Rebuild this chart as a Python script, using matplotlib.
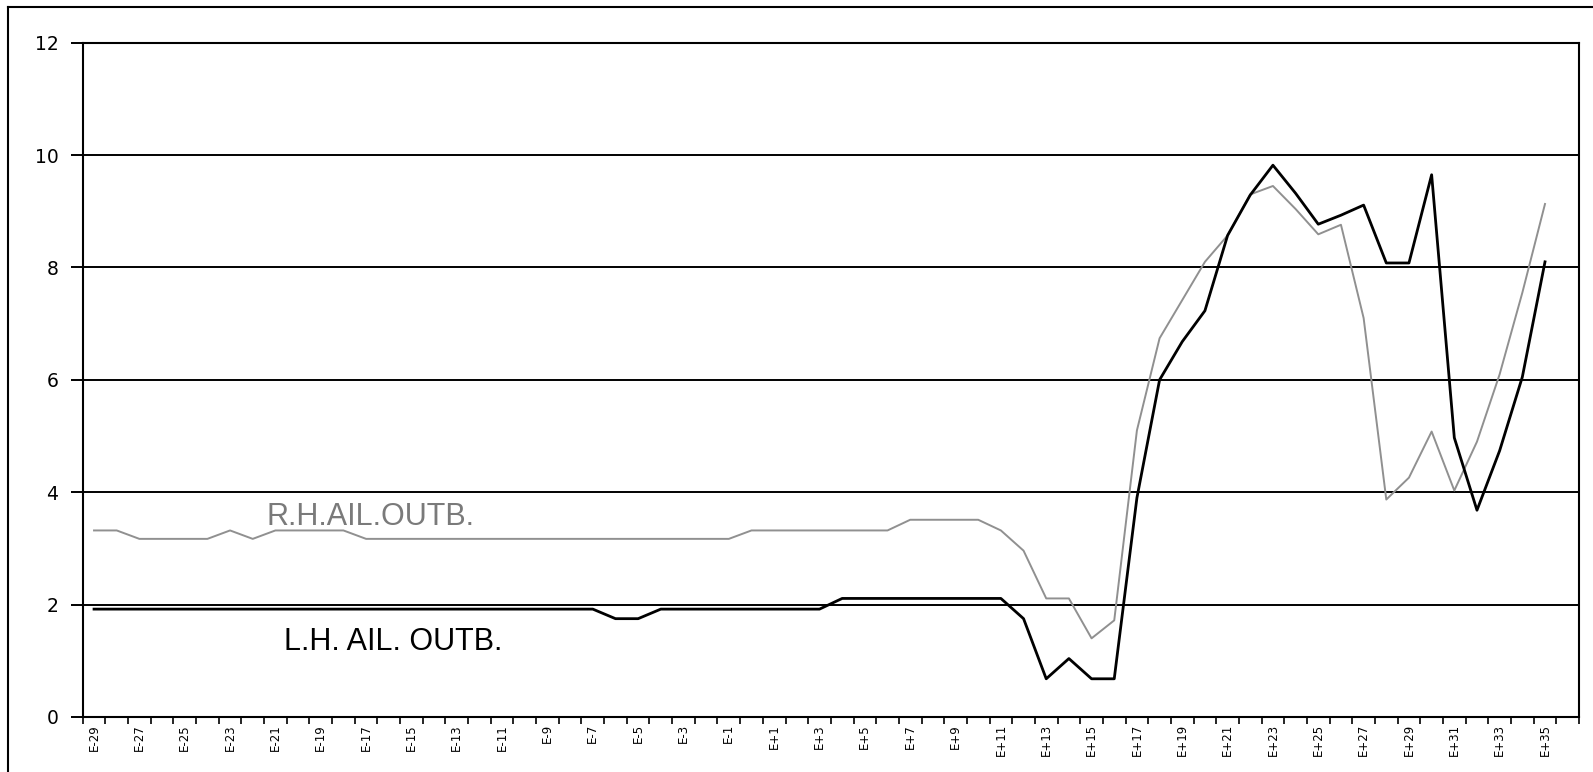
import numpy as np
import matplotlib
matplotlib.use("Agg")
import matplotlib.pyplot as plt
from matplotlib.lines import Line2D

# flight-time categories E-29 .. E+36 (one spare slot after the last sample)
cats = [f"E{n:+d}" if n != 0 else "E" for n in range(-29, 37)]
tick_labels = [c if i % 2 == 0 else "" for i, c in enumerate(cats)]

rh_outb = [3.32, 3.32, 3.17, 3.17, 3.17, 3.17, 3.32, 3.17, 3.32, 3.32,
           3.32, 3.32] + [3.17] * 17 + [3.32] * 7 + [3.51] * 4 + \
          [3.32, 2.96, 2.11, 2.11, 1.40, 1.72, 5.10, 6.74, 7.42, 8.10,
           8.57, 9.30, 9.45, 9.04, 8.59, 8.76, 7.10, 3.87, 4.26, 5.08,
           4.03, 4.90, 6.10, 7.55, 9.13]

lh_outb = [1.92] * 23 + [1.75, 1.75] + [1.92] * 8 + [2.11] * 8 + \
          [1.75, 0.68, 1.04, 0.68, 0.68, 3.90, 6.00, 6.68, 7.23, 8.57,
           9.29, 9.82, 9.32, 8.77, 8.93, 9.11, 8.08, 8.08, 9.65, 4.97,
           3.68, 4.74, 6.05, 8.10]

W, H = 1593, 772
fig = plt.figure(figsize=(W / 100, H / 100), dpi=100)
ax = fig.add_axes([82.7 / W, 1 - 717 / H, (1579 - 82.7) / W, (717 - 42.7) / H])

x = np.arange(len(rh_outb))
ax.plot(x, rh_outb, color="#909090", lw=1.4, zorder=3)
ax.plot(x, lh_outb, color="black", lw=2.0, zorder=4)

ax.set_xlim(-0.5, len(cats) - 0.5)
ax.set_ylim(0, 12)
ax.set_yticks(range(0, 13, 2))
ax.yaxis.grid(True, color="black", lw=1.4)
ax.set_axisbelow(True)

ax.set_xticks(np.arange(len(cats)))
ax.set_xticklabels(tick_labels, rotation=90, fontsize=8.5)
ax.set_xticks(np.arange(len(cats) + 1) - 0.5, minor=True)
ax.tick_params(axis="x", which="major", length=0, pad=5)
ax.tick_params(axis="x", which="minor", length=5, width=1.2, color="black")
ax.tick_params(axis="y", length=8.5, width=1.4, labelsize=13.5, pad=9)

for s in ax.spines.values():
    s.set_linewidth(1.5)
    s.set_color("black")

ax.text(12.2, 3.56, "R.H.AIL.OUTB.", color="#7a7a7a", fontsize=22,
        ha="center", va="center", family="Liberation Sans")
ax.text(13.2, 1.34, "L.H. AIL. OUTB.", color="black", fontsize=22,
        ha="center", va="center", family="Liberation Sans")

# frame round the chart
fig.add_artist(Line2D([8 / W, 8 / W], [0, 1 - 7 / H], color="black", lw=1.5))
fig.add_artist(Line2D([8 / W, 1], [1 - 7 / H, 1 - 7 / H], color="black", lw=1.5))

fig.savefig("out.png", dpi=100)
